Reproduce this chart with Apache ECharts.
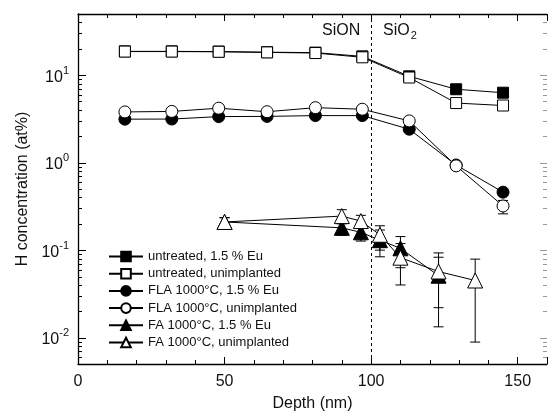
<!DOCTYPE html>
<html><head><meta charset="utf-8">
<script src="https://cdn.jsdelivr.net/npm/echarts@6/dist/echarts.min.js"></script>
<style>html,body{margin:0;padding:0;background:#fff}#c{width:550px;height:417px}</style>
</head><body><div id="c"></div>
<script>
// ---- data ----
const depthMain = [16, 32, 48, 64.5, 81, 97, 113, 129, 145];
const untreatedEu = [18.7, 18.7, 18.6, 18.3, 18.1, 16.4, 9.7, 6.9, 6.3];
const untreatedUnimpl = [18.6, 18.6, 18.5, 18.2, 17.9, 16.0, 9.4, 4.8, 4.5];
const flaEu = [3.14, 3.15, 3.36, 3.38, 3.45, 3.45, 2.41, 0.94, 0.46];
const flaUnimpl = [3.8, 3.85, 4.19, 3.82, 4.25, 4.08, 3.0, 0.92, 0.32];
const flaUnimplErrLow = [null, null, null, null, null, null, null, null, 0.26];
const flaUnimplErrHigh = [null, null, null, null, null, null, null, null, 0.37];

const depthFAEu = [50, 90, 96.5, 103, 110, 123];
const faEu = [0.21, 0.18, 0.16, 0.13, 0.105, 0.051];
const faEuErrLow = [0.18, 0.148, 0.127, 0.10, 0.063, 0.0133];
const faEuErrHigh = [0.235, 0.20, 0.19, 0.17, 0.143, 0.083];

const depthFAUnimpl = [50, 90, 96.5, 103, 110, 123, 135.5];
const faUnimpl = [0.21, 0.245, 0.215, 0.15, 0.082, 0.057, 0.045];
const faUnimplErrLow = [0.19, 0.22, 0.19, 0.084, 0.040, 0.022, 0.0089];
const faUnimplErrHigh = [0.235, 0.29, 0.25, 0.19, 0.119, 0.093, 0.079];

const seriesNames = ['untreated, 1.5 % Eu', 'untreated, unimplanted', 'FLA 1000°C, 1.5 % Eu',
  'FLA 1000°C, unimplanted', 'FA 1000°C, 1.5 % Eu', 'FA 1000°C, unimplanted'];

const xTickLabels = [0, 50, 100, 150];
const yMajorTickValues = [0.01, 0.1, 1, 10];
const yMinorTickValues = [0.006, 0.007, 0.008, 0.009,
  0.02, 0.03, 0.04, 0.05, 0.06, 0.07, 0.08, 0.09,
  0.2, 0.3, 0.4, 0.5, 0.6, 0.7, 0.8, 0.9,
  2, 3, 4, 5, 6, 7, 8, 9,
  20, 30, 40];
const interfaceDepth = 100;

// ---- helpers ----
const FONT = "'Liberation Sans', Arial, sans-serif";
const X_MIN = 0, X_MAX = 160;
const pair = (xs, ys) => xs.map((x, i) => [x, ys[i]]);
const errData = (xs, lo, hi) => xs.map((x, i) => [x, lo[i], hi[i]]).filter(d => d[1] != null);

function errRender(params, api) {
  const x = api.value(0);
  const p1 = api.coord([x, api.value(1)]);
  const p2 = api.coord([x, api.value(2)]);
  const cw = 5;
  const st = { stroke: '#000', lineWidth: 1 };
  return { type: 'group', children: [
    { type: 'line', shape: { x1: p1[0], y1: p1[1], x2: p2[0], y2: p2[1] }, style: st },
    { type: 'line', shape: { x1: p1[0] - cw, y1: p1[1], x2: p1[0] + cw, y2: p1[1] }, style: st },
    { type: 'line', shape: { x1: p2[0] - cw, y1: p2[1], x2: p2[0] + cw, y2: p2[1] }, style: st }
  ]};
}
// log-axis tick decorations placed through the axis scale: [x-edge, y-value, length, side]
function tickRender(params, api) {
  const p = api.coord([api.value(0), api.value(1)]);
  const len = api.value(2) * api.value(3);
  const y = Math.round(p[1]) + 0.5;
  return { type: 'line', shape: { x1: p[0], y1: y, x2: p[0] + len, y2: y },
    style: { stroke: api.value(3) > 0 ? '#000' : '#999', lineWidth: 1 } };
}
const tickData = []
  .concat(yMinorTickValues.map(v => [X_MIN, v, 4, 1]))
  .concat(yMajorTickValues.map(v => [X_MIN, v, 8, 1]))
  .concat(yMinorTickValues.map(v => [X_MAX, v, 4, -1]))
  .concat(yMajorTickValues.map(v => [X_MAX, v, 7, -1]));

function lineSeries(name, xs, ys, symbol, size, filled) {
  return {
    name, type: 'line', data: pair(xs, ys), symbol, symbolSize: size,
    showSymbol: true, animation: false, z: 3,
    lineStyle: { color: '#000', width: 1 },
    itemStyle: { color: filled ? '#000' : '#fff', borderColor: '#000', borderWidth: 1 }
  };
}

const chart = echarts.init(document.getElementById('c'), null, { renderer: 'canvas' });
const axisCommon = {
  axisLine: { show: true, lineStyle: { color: '#000', width: 1.3 } },
  splitLine: { show: false }
};
chart.setOption({
  backgroundColor: '#fff',
  animation: false,
  textStyle: { fontFamily: FONT },
  grid: { left: 78, right: -3, top: 14, bottom: 52 },
  legend: {
    orient: 'vertical', left: 103, top: 245, itemWidth: 34, itemHeight: 12, itemGap: 4.2,
    textStyle: { fontSize: 13, color: '#111', fontFamily: FONT },
    data: seriesNames.map(n => ({ name: n }))
  },
  xAxis: [
    Object.assign({}, axisCommon, {
      type: 'value', min: X_MIN, max: X_MAX, interval: 50, position: 'bottom',
      name: 'Depth (nm)', nameLocation: 'middle', nameGap: 32,
      nameTextStyle: { fontSize: 16, color: '#111', fontFamily: FONT },
      axisTick: { inside: true, length: 7, lineStyle: { color: '#000' } },
      minorTick: { show: true, splitNumber: 5, length: 4, lineStyle: { color: '#000' } },
      minorSplitLine: { show: false },
      axisLabel: { fontSize: 16, color: '#111', margin: 10,
        formatter: v => (xTickLabels.indexOf(v) >= 0 ? String(v) : '') }
    }),
    Object.assign({}, axisCommon, {
      type: 'value', min: X_MIN, max: X_MAX, interval: 50, position: 'top',
      axisTick: { inside: true, length: 7, lineStyle: { color: '#000' } },
      minorTick: { show: true, splitNumber: 5, length: 4, lineStyle: { color: '#000' } },
      axisLabel: { show: false }
    })
  ],
  yAxis: [
    Object.assign({}, axisCommon, {
      type: 'log', logBase: 10, min: 0.005, max: 50, position: 'left',
      name: 'H concentration (at%)', nameLocation: 'middle', nameGap: 47,
      nameTextStyle: { fontSize: 16, color: '#111', fontFamily: FONT },
      axisTick: { show: false },
      axisLabel: {
        margin: 9, color: '#111',
        formatter: function (v) {
          const e = Math.log10(v);
          const r = Math.round(e);
          if (Math.abs(e - r) > 1e-6) return '';
          return '{b|10}{s|' + r + '}';
        },
        rich: {
          b: { fontSize: 16, color: '#111', fontFamily: FONT, padding: [4, 0, 0, 0] },
          s: { fontSize: 11, color: '#111', fontFamily: FONT, verticalAlign: 'bottom', padding: [0, 0, 9, 0] }
        }
      }
    })
  ],
  graphic: [
    { type: 'text', left: 322, top: 23, silent: true,
      style: { text: 'SiON', fontSize: 16, fill: '#111', fontFamily: FONT } },
    { type: 'text', left: 383, top: 23, silent: true,
      style: { text: '{a|SiO}{b|2}', fontFamily: FONT,
        rich: { a: { fontSize: 16, fill: '#111', fontFamily: FONT },
                b: { fontSize: 11, fill: '#111', fontFamily: FONT, padding: [10, 0, 0, 1] } } } }
  ],
  series: [
    {
      name: 'yTicks', type: 'custom', renderItem: tickRender, silent: true,
      data: tickData, encode: { x: 0, y: 1 }, z: 5, clip: false
    },
    {
      name: 'errFAEu', type: 'custom', renderItem: errRender, silent: true,
      data: errData(depthFAEu, faEuErrLow, faEuErrHigh), encode: { x: 0, y: [1, 2] }, z: 2
    },
    {
      name: 'errFAUnimpl', type: 'custom', renderItem: errRender, silent: true,
      data: errData(depthFAUnimpl, faUnimplErrLow, faUnimplErrHigh), encode: { x: 0, y: [1, 2] }, z: 2
    },
    {
      name: 'errFLAUnimpl', type: 'custom', renderItem: errRender, silent: true,
      data: errData(depthMain, flaUnimplErrLow, flaUnimplErrHigh), encode: { x: 0, y: [1, 2] }, z: 2
    },
    Object.assign(lineSeries(seriesNames[0], depthMain, untreatedEu, 'rect', 11, true), {
      markLine: {
        silent: true, symbol: 'none', animation: false,
        lineStyle: { color: '#000', type: [3, 3], width: 1 },
        label: { show: false },
        data: [{ xAxis: interfaceDepth }]
      }
    }),
    lineSeries(seriesNames[1], depthMain, untreatedUnimpl, 'rect', 11, false),
    lineSeries(seriesNames[2], depthMain, flaEu, 'circle', 12, true),
    lineSeries(seriesNames[3], depthMain, flaUnimpl, 'circle', 12, false),
    lineSeries(seriesNames[4], depthFAEu, faEu, 'triangle', 15, true),
    lineSeries(seriesNames[5], depthFAUnimpl, faUnimpl, 'triangle', 15, false)
  ]
});
</script></body></html>
